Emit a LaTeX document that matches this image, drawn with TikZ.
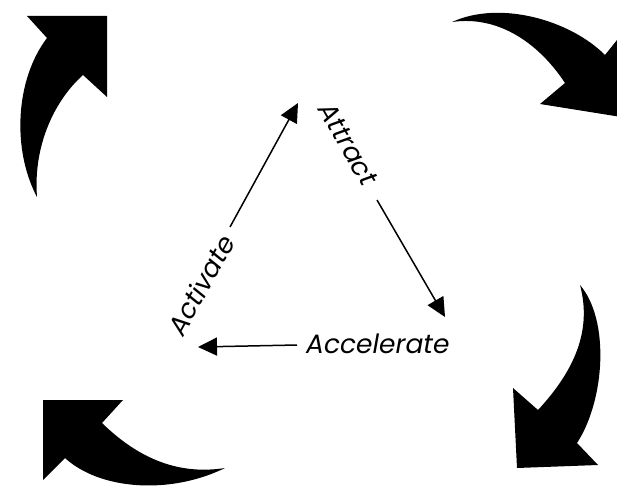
\documentclass[tikz,border=0pt]{standalone}
\usepackage{fontspec}
\newfontfamily\labelfont{Poppins}
\usetikzlibrary{arrows.meta}

\begin{document}
\begin{tikzpicture}[
		x=1pt, y=-1pt,
		bigarrow/.style = {fill=black, draw=none},
		flow/.style = {line width=1.5pt, -{Triangle[length=19pt,width=18pt]}},
		word/.style = {font=\labelfont\itshape\fontsize{26.5}{30}\selectfont, inner sep=0pt}
	]
	\useasboundingbox (0,0) rectangle (617,492);
	\clip (0,0) rectangle (617,492);
	% curved arrows round the border
	\fill[bigarrow] (37,197) .. controls (12,150) and (15,80) .. (47,38)
		-- (27,16) -- (107,16) -- (107,97) -- (83,75)
		.. controls (55,100) and (33,145) .. (37,197) -- cycle;
	\fill[bigarrow] (452,22) .. controls (500,0) and (570,20) .. (605,55)
		-- (625,30) -- (640,120) -- (540,104) -- (565,83)
		.. controls (540,45) and (500,15) .. (452,22) -- cycle;
	\fill[bigarrow] (580,285) .. controls (610,320) and (605,400) .. (577,443)
		-- (598,465) -- (517,468) -- (513,388) -- (538,410)
		.. controls (575,370) and (592,330) .. (580,285) -- cycle;
	\fill[bigarrow] (225,468) .. controls (170,495) and (100,490) .. (65,458)
		-- (43,480) -- (43,400) -- (123,400) -- (102,423)
		.. controls (140,460) and (180,475) .. (225,468) -- cycle;
	% the cycle
	\node[word, rotate=-60] (attract) at (348,144) {Attract};
	\node[word, rotate=61] (activate) at (201,285) {Activate};
	\node[word, anchor=west] (accelerate) at (306,344) {Accelerate};
	\coordinate (actS) at (230,227);
	\coordinate (actE) at (298,103);
	\coordinate (attS) at (377,200);
	\coordinate (attE) at (445,317);
	\coordinate (accS) at (297,345);
	\coordinate (accE) at (198,347);
	\draw[flow] (actS) -- (actE);
	\draw[flow] (attS) -- (attE);
	\draw[flow] (accS) -- (accE);
\end{tikzpicture}
\end{document}
